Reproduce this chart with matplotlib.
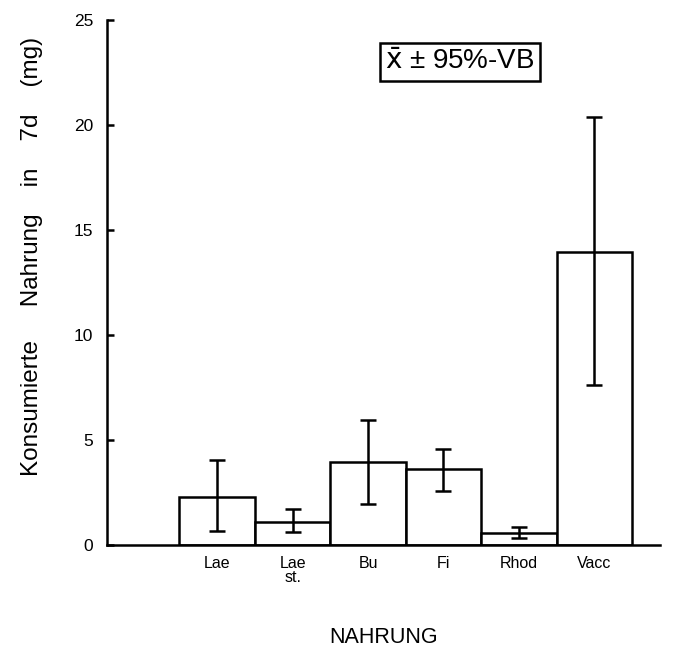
import matplotlib
matplotlib.use("Agg")
import matplotlib.pyplot as plt
import numpy as np

categories = ["Lae", "Lae\nst.", "Bu", "Fi", "Rhod", "Vacc"]
means = [2.3, 1.1, 3.95, 3.6, 0.57, 13.95]
upper = [4.05, 1.7, 5.95, 4.57, 0.86, 20.4]
lower = [0.67, 0.62, 1.95, 2.57, 0.33, 7.6]
yticks = [0, 5, 10, 15, 20, 25]

plt.rcParams['font.family'] = ['Liberation Sans', 'DejaVu Sans']

fig = plt.figure(figsize=(6.74, 6.49), dpi=100)
ax = fig.add_axes([107/674, 1-545/649, (660-107)/674, (545-20)/649])

x = np.arange(len(categories))
m = np.array(means)
err = np.array([m - np.array(lower), np.array(upper) - m])
ax.bar(x, m, width=1.0, facecolor='white', edgecolor='black', linewidth=1.8)
ax.errorbar(x, m, yerr=err, fmt='none', ecolor='black', elinewidth=1.8,
            capsize=6, capthick=1.8)

ax.set_xlim(-1.46, 5.87)
ax.set_ylim(0, 25)
ax.set_yticks(yticks)
ax.set_xticks(x)
ax.set_xticklabels(categories, fontsize=11.5, linespacing=0.9, va='top')
ax.tick_params(axis='x', length=0, pad=8)
ax.tick_params(axis='y', direction='in', length=5, width=1.8, labelsize=12.5, pad=10)
for s in ['top', 'right']:
    ax.spines[s].set_visible(False)
for s in ['left', 'bottom']:
    ax.spines[s].set_linewidth(1.8)

ax.set_ylabel("Konsumierte     Nahrung    in    7d    (mg)", fontsize=17.5)
ax.yaxis.set_label_coords(-64/553, 0.55)
ax.set_xlabel("NAHRUNG", fontsize=15.5, labelpad=30)

ax.text(0.638, 0.92, r"$\bar{\mathrm{x}}$" + " ± 95%-VB", transform=ax.transAxes,
        ha='center', va='center', fontsize=20,
        bbox=dict(boxstyle='square,pad=0.2', facecolor='white', edgecolor='black', linewidth=1.8))

fig.savefig("out.png", dpi=100)
